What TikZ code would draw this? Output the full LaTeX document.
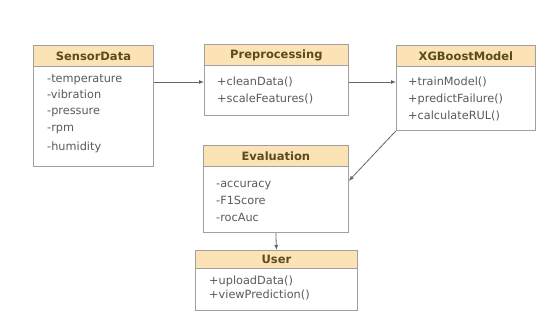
\documentclass[tikz,border=0pt]{standalone}
\usepackage{fontspec}
\setmainfont{DejaVu Sans}
\usetikzlibrary{arrows.meta}
\definecolor{hdr}{HTML}{FBE3B6}
\definecolor{brd}{HTML}{A0A0A0}
\definecolor{ttl}{HTML}{5B4A1E}
\definecolor{txt}{HTML}{5A5A5A}
\definecolor{arr}{HTML}{666666}
\begin{document}
\begin{tikzpicture}[x=1pt,y=-1pt,
  box/.style={draw=brd, line width=0.8pt, fill=white, inner sep=0pt, anchor=north west},
  hbox/.style={draw=brd, line width=0.8pt, fill=hdr, inner sep=0pt, anchor=north west,
    minimum height=21pt, font=\fontsize{11.5}{13}\selectfont\bfseries, text=ttl},
  member/.style={anchor=base west, inner sep=0pt, font=\fontsize{11.3}{13}\selectfont, text=txt},
  conn/.style={draw=arr, line width=0.8pt, -{Latex[length=5pt,width=4pt]}}]
\useasboundingbox[fill=white] (0,0) rectangle (550,331);

% SensorData
\node[box, minimum width=120pt, minimum height=121pt] (sens) at (33,45) {};
\node[hbox, minimum width=120pt] (sensH) at (33,45) {SensorData};
\node[member] (s1) at (47,83) {-temperature};
\node[member] (s2) at (47,99) {-vibration};
\node[member] (s3) at (47,115) {-pressure};
\node[member] (s4) at (47,132) {-rpm};
\node[member] (s5) at (47,151) {-humidity};

% Preprocessing
\node[box, minimum width=144pt, minimum height=71pt] (pre) at (204,44) {};
\node[hbox, minimum width=144pt] (preH) at (204,44) {Preprocessing};
\node[member] (p1) at (217,86) {+cleanData()};
\node[member] (p2) at (217,103) {+scaleFeatures()};

% XGBoostModel
\node[box, minimum width=139pt, minimum height=85pt] (xgb) at (396,45) {};
\node[hbox, minimum width=139pt] (xgbH) at (396,45) {XGBoostModel};
\node[member] (x1) at (408,86) {+trainModel()};
\node[member] (x2) at (408,103) {+predictFailure()};
\node[member] (x3) at (408,120) {+calculateRUL()};

% Evaluation
\node[box, minimum width=145pt, minimum height=87pt] (eval) at (203,145) {};
\node[hbox, minimum width=145pt] (evalH) at (203,145) {Evaluation};
\node[member] (e1) at (216,188) {-accuracy};
\node[member] (e2) at (216,205) {-F1Score};
\node[member] (e3) at (216,222) {-rocAuc};

% User
\node[box, minimum width=162pt, minimum height=60pt] (user) at (195,250) {};
\node[hbox, minimum width=162pt, minimum height=18pt] (userH) at (195,250) {User};
\node[member] (u1) at (209,285) {+uploadData()};
\node[member] (u2) at (209,299) {+viewPrediction()};

% connectors
\draw[conn] (sens.east |- 0,82) -- (pre.west |- 0,82);
\draw[conn] (pre.east |- 0,82) -- (xgb.west |- 0,82);
\draw[conn] (xgb.south west) -- ([yshift=8pt]eval.east);
\draw[conn] (eval.south) -- (user.north);
\end{tikzpicture}
\end{document}
